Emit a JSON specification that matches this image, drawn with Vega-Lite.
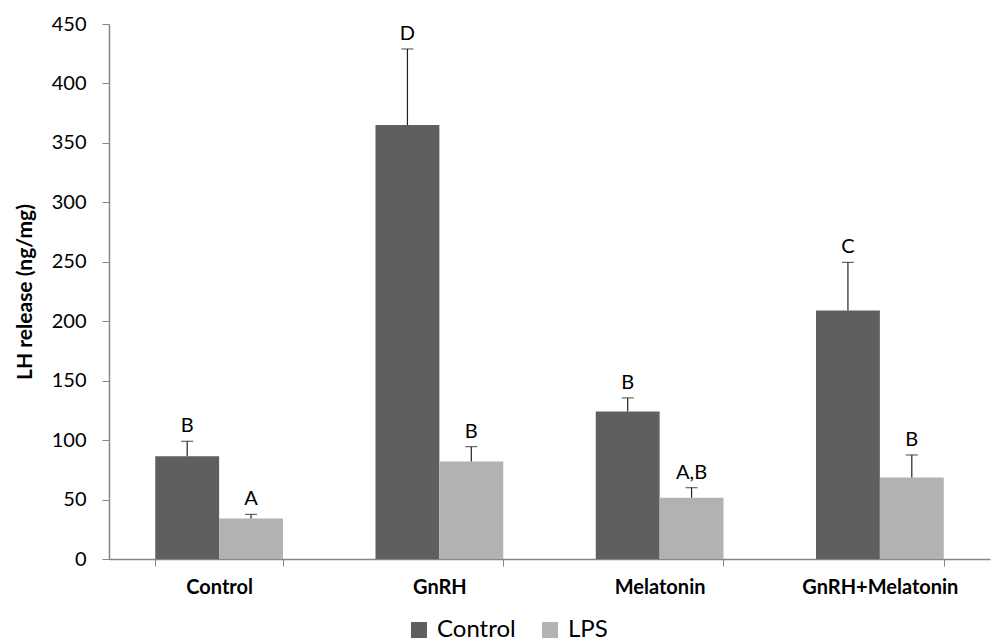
{
  "$schema": "https://vega.github.io/schema/vega-lite/v6.json",
  "width": 881,
  "height": 535,
  "autosize": {"type": "none"},
  "padding": {"left": 109, "top": 24, "right": 1, "bottom": 85},
  "background": "white",
  "config": {
    "view": {"stroke": null},
    "font": "Lato",
    "axis": {"grid": false, "domainColor": "#868686", "tickColor": "#868686", "labelColor": "black", "titleColor": "black", "labelFont": "Lato", "titleFont": "Lato"}
  },
  "data": {
    "values": [
      {"group": "Control", "treatment": "Control", "value": 86.5, "upper": 99, "letter": "B"},
      {"group": "Control", "treatment": "LPS", "value": 34, "upper": 37.5, "letter": "A"},
      {"group": "GnRH", "treatment": "Control", "value": 365, "upper": 429, "letter": "D"},
      {"group": "GnRH", "treatment": "LPS", "value": 82, "upper": 94.5, "letter": "B"},
      {"group": "Melatonin", "treatment": "Control", "value": 124, "upper": 135.5, "letter": "B"},
      {"group": "Melatonin", "treatment": "LPS", "value": 51.5, "upper": 60, "letter": "A,B"},
      {"group": "GnRH+Melatonin", "treatment": "Control", "value": 209, "upper": 249.5, "letter": "C"},
      {"group": "GnRH+Melatonin", "treatment": "LPS", "value": 68.5, "upper": 87.5, "letter": "B"}
    ]
  },
  "encoding": {
    "x": {
      "field": "group", "type": "nominal", "sort": null,
      "scale": {"paddingInner": 0.42, "paddingOuter": 0.21},
      "axis": {"title": null, "labelAngle": 0, "labelFontWeight": "bold", "labelFontSize": 20, "labelPadding": 11, "tickBand": "extent", "tickSize": 7, "domainWidth": 1.5}
    },
    "xOffset": {"field": "treatment", "type": "nominal", "sort": ["Control", "LPS"], "scale": {"paddingInner": 0, "paddingOuter": 0}}
  },
  "layer": [
    {
      "mark": {"type": "bar", "stroke": null},
      "encoding": {
        "y": {
          "field": "value", "type": "quantitative",
          "scale": {"domain": [0, 450], "nice": false},
          "axis": {"title": "LH release (ng/mg)", "titleFontSize": 21, "titleFontWeight": "bold", "titlePadding": 16, "values": [0, 50, 100, 150, 200, 250, 300, 350, 400, 450], "labelFontSize": 20, "labelPadding": 16, "tickSize": 7, "domainWidth": 1.5}
        },
        "color": {
          "field": "treatment", "type": "nominal", "sort": ["Control", "LPS"],
          "scale": {"domain": ["Control", "LPS"], "range": ["#5f5f5f", "#b2b2b2"]},
          "legend": {"title": null, "orient": "none", "legendX": 298, "legendY": 594, "padding": 0, "direction": "horizontal", "symbolType": "square", "symbolSize": 256, "symbolStrokeWidth": 0, "labelFontSize": 24, "labelFont": "Lato", "labelColor": "black", "columnPadding": 22, "labelOffset": 6, "symbolOpacity": 1}
        }
      }
    },
    {
      "mark": {"type": "rule", "color": "#222222", "strokeWidth": 1.2},
      "encoding": {
        "y": {"field": "value", "type": "quantitative"},
        "y2": {"field": "upper"}
      }
    },
    {
      "mark": {"type": "tick", "color": "#222222", "thickness": 1.2, "size": 12},
      "encoding": {
        "y": {"field": "upper", "type": "quantitative"}
      }
    },
    {
      "mark": {"type": "text", "fontSize": 20, "font": "Lato", "color": "black", "dy": -9, "baseline": "alphabetic"},
      "encoding": {
        "y": {"field": "upper", "type": "quantitative"},
        "text": {"field": "letter"}
      }
    }
  ]
}
